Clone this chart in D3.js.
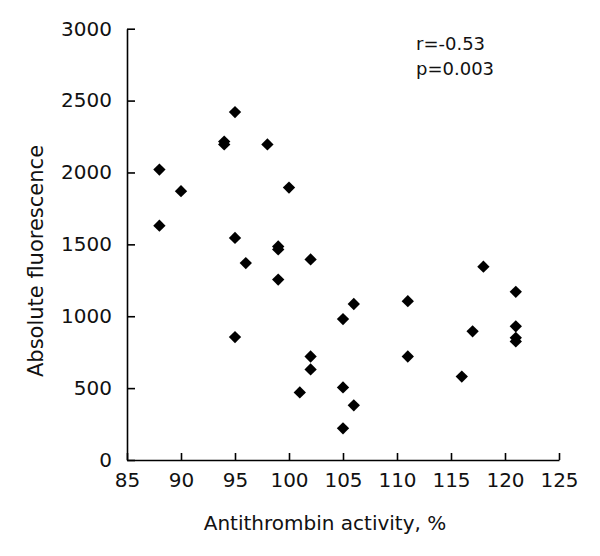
<!DOCTYPE html>
<html>
<head>
<meta charset="utf-8">
<script src="https://cdn.jsdelivr.net/npm/d3@7"></script>
<style>
  html, body { margin: 0; padding: 0; background: #fff; }
  svg { display: block; font-family: "DejaVu Sans", sans-serif; }
</style>
</head>
<body>
<svg id="chart" width="600" height="556"></svg>
<script>
// Data
const activity = [88, 88, 90, 94, 94, 95, 95, 95, 96, 98, 99, 99, 99, 100, 101, 102, 102, 102,
                  105, 105, 105, 106, 106, 111, 111, 116, 117, 118, 121, 121, 121, 121];
const fluorescence = [2020, 1630, 1870, 2215, 2195, 2420, 1545, 855, 1370, 2195, 1485, 1465, 1255, 1895, 470, 1395, 720, 630,
                      980, 505, 220, 1085, 380, 1105, 720, 580, 895, 1345, 1170, 930, 850, 825];
const xTicks = [85, 90, 95, 100, 105, 110, 115, 120, 125];
const yTicks = [0, 500, 1000, 1500, 2000, 2500, 3000];
const xTitle = "Antithrombin activity, %";
const yTitle = "Absolute fluorescence";
const statLines = ["r=-0.53", "p=0.003"];

const svg = d3.select("#chart");
const x = d3.scaleLinear().domain([85, 125]).range([127, 559]);
const y = d3.scaleLinear().domain([0, 3000]).range([460, 28.7]);

const xAxis = svg.append("g")
  .attr("transform", `translate(0,${y(0)})`)
  .call(d3.axisBottom(x).tickValues(xTicks).tickFormat(d3.format("d"))
    .tickSizeInner(-7).tickSizeOuter(0).tickPadding(13));
const yAxis = svg.append("g")
  .attr("transform", `translate(${x(85)},0)`)
  .call(d3.axisLeft(y).tickValues(yTicks).tickFormat(d3.format("d"))
    .tickSizeInner(-8).tickSizeOuter(0).tickPadding(15));

[xAxis, yAxis].forEach(g => {
  g.select(".domain").attr("stroke", "#000").attr("stroke-width", 1.6);
  g.selectAll(".tick line").attr("stroke", "#000").attr("stroke-width", 1.6);
  g.selectAll(".tick text").attr("fill", "#111").attr("font-size", 20)
    .attr("font-family", "DejaVu Sans, sans-serif");
});

// Axis titles
svg.append("text")
  .attr("x", 325).attr("y", 530)
  .attr("text-anchor", "middle")
  .attr("font-size", 20).attr("fill", "#111")
  .text(xTitle);
svg.append("text")
  .attr("transform", "translate(43,261) rotate(-90)")
  .attr("text-anchor", "middle")
  .attr("font-size", 21).attr("fill", "#111")
  .text(yTitle);

// Stats annotation
svg.append("g").selectAll("text")
  .data(statLines).join("text")
  .attr("x", 416).attr("y", (d, i) => 50 + i * 25)
  .attr("font-size", 18).attr("fill", "#111")
  .text(d => d);

// Diamond markers
const pts = activity.map((a, i) => ({ a, f: fluorescence[i] }));
const diamond = d3.symbol().type(d3.symbolSquare).size(76);
svg.append("g").selectAll("path")
  .data(pts).join("path")
  .attr("d", diamond)
  .attr("transform", d => `translate(${x(d.a)},${y(d.f)}) rotate(45)`)
  .attr("fill", "#000");
</script>
</body>
</html>
